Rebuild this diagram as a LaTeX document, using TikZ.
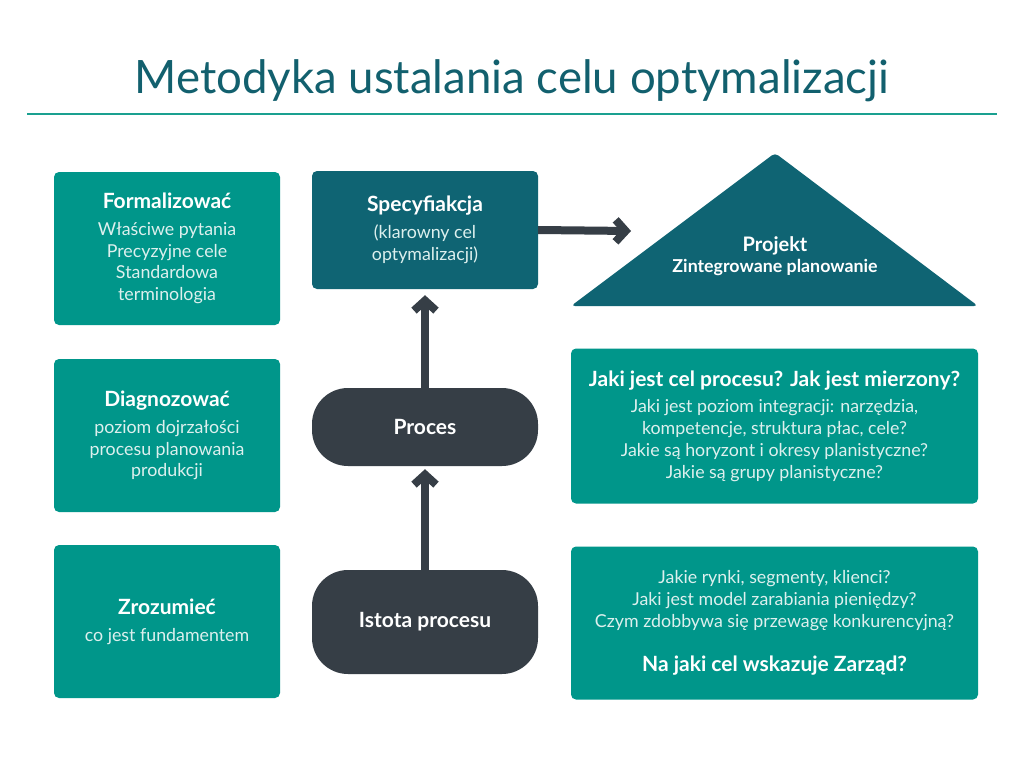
\documentclass[tikz,border=0pt]{standalone}
\usepackage{fontspec}
\setmainfont{Lato}
\newfontfamily\titlefont[FakeStretch=0.99]{Lato}
\usetikzlibrary{arrows.meta,positioning}
\definecolor{tealbox}{HTML}{00968A}
\definecolor{darkteal}{HTML}{0F6473}
\definecolor{darkgray}{HTML}{363E46}
\definecolor{titlecol}{HTML}{12606E}
\definecolor{rulecol}{HTML}{1AA090}
\definecolor{lighttext}{HTML}{DDF0EE}
\tikzset{
  box/.style={fill=tealbox, rounded corners=5pt, minimum width=226pt, minimum height=153pt, align=center, inner sep=0pt, text=lighttext, font=\fontsize{17.8}{21.8}\selectfont},
  widebox/.style={box, minimum width=407pt, minimum height=155pt},
  specbox/.style={box, fill=darkteal, minimum height=118pt},
  pill/.style={fill=darkgray, rounded corners=36pt, minimum width=226pt, align=center, inner sep=0pt, text=white, font=\fontsize{21}{24}\selectfont\bfseries},
  conn/.style={draw=darkgray, line width=8pt, -{Straight Barb[length=10pt,width=22pt]}},
}
\newcommand{\hd}[1]{{\color{white}\bfseries\fontsize{21}{24}\selectfont #1}}
\begin{document}
\begin{tikzpicture}[x=1pt,y=-1pt]
\useasboundingbox (0,0) rectangle (1024,768);
\fill[white] (0,0) rectangle (1024,768);

\node[text=titlecol, font=\titlefont\fontsize{46}{50}\selectfont] (title) at (512,81) {Metodyka ustalania celu optymalizacji};
\draw[rulecol, line width=2pt] (27,114) -- (997,114);

\node[box] (form) at (167,248.5) {\hd{Formalizować}\\[5pt] Właściwe pytania\\ Precyzyjne cele\\ Standardowa\\ terminologia};
\node[box] (diag) at (167,435.5) {\hd{Diagnozować}\\[5pt] poziom dojrzałości\\ procesu planowania\\ produkcji};
\node[box] (zroz) at (167,621.5) {\hd{Zrozumieć}\\[5pt] co jest fundamentem};

\node[specbox] (spec) at (425,230) {\hd{Specyfiakcja}\\[5pt] (klarowny cel\\ optymalizacji)};
\node[pill, minimum height=78pt] (proc) at (425,427) {Proces};
\node[pill, minimum height=104pt] (ist) at (425,622) {Istota procesu};

\fill[darkteal, rounded corners=4pt] (571,306) -- (775,153) -- (978,306) -- cycle;
\node[align=center, text=white, font=\bfseries] (proj) at (775,256) {{\fontsize{20}{23}\selectfont Projekt}\\[3pt]{\fontsize{17.8}{20}\selectfont Zintegrowane planowanie}};
\coordinate (projin) at (631,231);

\node[widebox] (cel) at (774.5,426) {{\color{white}\bfseries\fontsize{21}{24}\selectfont Jaki jest cel procesu? Jak jest mierzony?}\\[5pt] Jaki jest poziom integracji: narzędzia,\\ kompetencje, struktura płac, cele?\\ Jakie są horyzont i okresy planistyczne?\\ Jakie są grupy planistyczne?};
\node[widebox, minimum height=153pt] (rynki) at (774.5,623) {Jakie rynki, segmenty, klienci?\\ Jaki jest model zarabiania pieniędzy?\\ Czym zdobbywa się przewagę konkurencyjną?\\[23pt] {\color{white}\bfseries\fontsize{21}{24}\selectfont Na jaki cel wskazuje Zarząd?}};

\draw[conn] (spec.east) -- (projin);
\draw[conn, shorten >=6pt] (proc.north) -- (spec.south);
\draw[conn, shorten >=3pt] (ist.north) -- (proc.south);
\end{tikzpicture}
\end{document}
